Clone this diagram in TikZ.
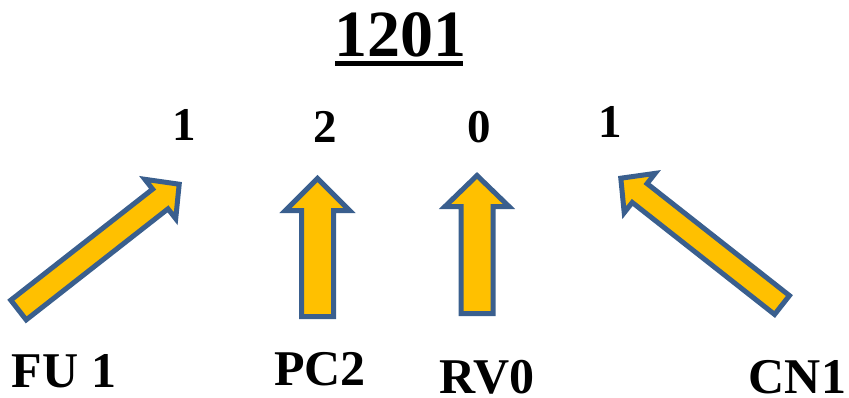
\documentclass[tikz,border=0pt]{standalone}
\usepackage{fontspec}
\setmainfont{Liberation Serif}
\usetikzlibrary{calc}
\definecolor{arrowfill}{HTML}{FFC000}
\definecolor{arrowline}{HTML}{3A5F8E}
% #1 tail, #2 tip, #3 shaft half-width, #4 head half-width, #5 head length
\newcommand\blockarrow[5]{%
  \draw[barrow] ($(#1)!#3!90:(#2)$)
    -- ($(#2)!#5!(#1)!#3!-90:(#1)$)
    -- ($(#2)!#5!(#1)!#4!-90:(#1)$)
    -- (#2)
    -- ($(#2)!#5!(#1)!#4!90:(#1)$)
    -- ($(#2)!#5!(#1)!#3!90:(#1)$)
    -- ($(#1)!#3!-90:(#2)$) -- cycle;}
\begin{document}
\begin{tikzpicture}[x=1pt,y=-1pt,
  barrow/.style={draw=arrowline, fill=arrowfill, line width=5pt, line join=miter},
  titletext/.style={font=\bfseries\fontsize{66}{66}\selectfont, anchor=base, inner sep=0pt},
  digit/.style={font=\bfseries\fontsize{47}{47}\selectfont, anchor=base, inner sep=0pt},
  lab/.style={font=\bfseries\fontsize{50}{50}\selectfont, anchor=base, inner sep=0pt}]
\useasboundingbox (0,0) rectangle (849,397);
% title
\node[titletext] (title) at (400,56) {1201};
\draw[line width=5pt] (335,63) -- (463,63);
% digits
\node[digit] (d1) at (184,140) {1};
\node[digit] (d2) at (325,142) {2};
\node[digit] (d3) at (479,142) {0};
\node[digit] (d4) at (610,137) {1};
% arrow end points
\coordinate (a1t) at (18.5,310);
\coordinate (a1h) at (179.2,184.2);
\coordinate (a2t) at (317.5,316.5);
\coordinate (a2h) at (317.5,178.5);
\coordinate (a3t) at (477,313.5);
\coordinate (a3h) at (477,175.5);
\coordinate (a4t) at (782,305);
\coordinate (a4h) at (620.8,178.2);
\blockarrow{a1t}{a1h}{12.5pt}{25pt}{24pt}
\blockarrow{a2t}{a2h}{16pt}{32pt}{32pt}
\blockarrow{a3t}{a3h}{16pt}{32pt}{31pt}
\blockarrow{a4t}{a4h}{12pt}{25pt}{24pt}
% labels
\node[lab] (l1) at (64,387) {FU 1};
\node[lab] (l2) at (320,385) {PC2};
\node[lab] (l3) at (487,393) {RV0};
\node[lab] (l4) at (797.5,393) {CN1};
\end{tikzpicture}
\end{document}
